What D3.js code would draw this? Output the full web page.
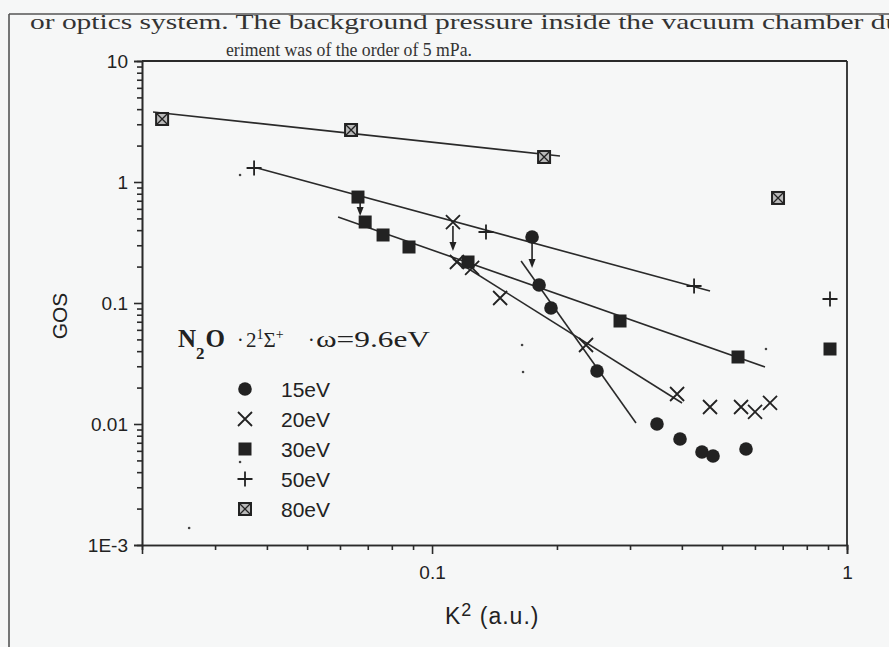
<!DOCTYPE html>
<html>
<head>
<meta charset="utf-8">
<script src="https://cdn.jsdelivr.net/npm/d3@7"></script>
<style>
  body { margin: 0; background: #f6f7f7; }
  svg { display: block; }
  .axis text { font-family: "Liberation Sans", Arial, sans-serif; font-size: 19px; fill: #222; }
  .axis path, .axis line { stroke: #2a2a2a; stroke-width: 1.6; }
</style>
</head>
<body>
<div id="graphicContainer"></div>
<script>

// K^2 (a.u.), GOS pairs
var ev15 = [[0.1742, 0.351], [0.1811, 0.1409], [0.1935, 0.0909], [0.2498, 0.02742], [0.3484, 0.0100],
	[0.3959, 0.00752], [0.4472, 0.00587], [0.4755, 0.00544], [0.5710, 0.00621]]
var ev20 = [[0.1123, 0.467], [0.1148, 0.2182], [0.1249, 0.1947], [0.1459, 0.1100], [0.2350, 0.04496],
	[0.3895, 0.0177], [0.4676, 0.01382], [0.5555, 0.01382], [0.6003, 0.01257], [0.6524, 0.01492]]
var ev30 = [[0.0663, 0.751], [0.0690, 0.467], [0.0762, 0.3648], [0.0880, 0.2903], [0.1221, 0.2182],
	[0.2838, 0.0710], [0.5462, 0.03579], [0.910, 0.04167]]
var ev50 = [[0.03725, 1.305], [0.1349, 0.3862], [0.428, 0.1382], [0.910, 0.1079]]
var ev80 = [[0.02236, 3.317], [0.0638, 2.69], [0.1862, 1.609], [0.682, 0.738]]

// fitted straight lines, two ends each
var fit15 = [[0.1639, 0.2224], [0.3101, 0.01019]]
var fit20 = [[0.1123, 0.2310], [0.4004, 0.01492]]
var fit30 = [[0.05937, 0.5137], [0.6344, 0.02959]]
var fit50 = [[0.03789, 1.305], [0.4677, 0.1257]]
var fit80 = [[0.02126, 3.79], [0.2034, 1.64]]

// shift arrows (from, to)
var shifts = [[[0.0671, 0.671], [0.0671, 0.5236]], [[0.1123, 0.4328], [0.1123, 0.269]], [[0.1742, 0.3133], [0.1742, 0.1947]]]

// stray dots on the scan
var specks = [[0.1648, 0.04496], [0.1657, 0.02691], [0.6379, 0.0417], [0.02598, 0.001382], [0.03446, 1.143], [0.03446, 0.004853]]

var xMajor = [0.1, 1]
var xMinor = [0.03, 0.04, 0.05, 0.06, 0.07, 0.08, 0.09, 0.2, 0.3, 0.4, 0.5, 0.6, 0.7, 0.8, 0.9]
var yMajor = [10, 1, 0.1, 0.01, 0.001]
var yLabels = ["10", "1", "0.1", "0.01", "1E-3"]

var legendLabels = ["15eV", "20eV", "30eV", "50eV", "80eV"]
var legendShapes = ["circle", "cross", "square", "plus", "xsquare"]

var width = 889, height = 647
var ink = "#222"

var svg = d3.select("#graphicContainer").append("svg")
	.attr("width", width)
	.attr("height", height)

svg.append("rect").attr("width", width).attr("height", height).attr("fill", "#f6f7f7")

svg.append("defs").append("clipPath").attr("id", "pageClip")
	.append("rect").attr("x", 0).attr("y", 15).attr("width", width).attr("height", height)

// page text above the figure
var page = svg.append("g").attr("clip-path", "url(#pageClip)")
page.append("text")
	.attr("x", 30).attr("y", 29)
	.attr("font-family", "Liberation Serif, serif").attr("font-size", 21).attr("fill", "#333")
	.attr("textLength", 880).attr("lengthAdjust", "spacingAndGlyphs")
	.text("or optics system. The background pressure inside the vacuum chamber dur")
page.append("text")
	.attr("x", 226).attr("y", 56)
	.attr("font-family", "Liberation Serif, serif").attr("font-size", 18).attr("fill", "#333")
	.attr("textLength", 246).attr("lengthAdjust", "spacingAndGlyphs")
	.text("eriment was of the order of 5 mPa.")

svg.append("line").attr("x1", 9).attr("x2", width).attr("y1", 14).attr("y2", 14)
	.attr("stroke", "#555").attr("stroke-width", 1.6)
svg.append("line").attr("x1", 9).attr("x2", 9).attr("y1", 14).attr("y2", height)
	.attr("stroke", "#555").attr("stroke-width", 1.6)

var x = d3.scaleLog().domain([0.02, 1]).range([142, 847])
var y = d3.scaleLog().domain([0.001, 10]).range([545, 61])

var yMinor = []
yMajor.slice(1).forEach(function (d) {
	for (var i = 2; i <= 9; i++) yMinor.push(+(d * i).toPrecision(3))
})

var axes = svg.append("g")

axes.append("g").attr("class", "axis").attr("transform", "translate(0," + y.range()[0] + ")")
	.call(d3.axisBottom(x).tickValues(xMinor).tickSize(5).tickFormat(""))
axes.append("g").attr("class", "axis").attr("transform", "translate(0," + y.range()[0] + ")")
	.call(d3.axisBottom(x).tickValues(xMajor).tickSize(9).tickPadding(12).tickFormat(d3.format("")))

axes.append("g").attr("class", "axis").attr("transform", "translate(" + x.range()[0] + ",0)")
	.call(d3.axisLeft(y).tickValues(yMinor).tickSize(5).tickFormat(""))
axes.append("g").attr("class", "axis").attr("transform", "translate(" + x.range()[0] + ",0)")
	.call(d3.axisLeft(y).tickValues(yMajor).tickSize(8).tickPadding(6).tickFormat(function (d, i) { return yLabels[i] }))

axes.selectAll(".domain").attr("stroke-width", 1.8)

// frame top and right
svg.append("line").attr("x1", x.range()[0]).attr("x2", x.range()[1]).attr("y1", y.range()[1]).attr("y2", y.range()[1])
	.attr("stroke", "#2a2a2a").attr("stroke-width", 1.8)
svg.append("line").attr("x1", x.range()[1]).attr("x2", x.range()[1]).attr("y1", y.range()[1]).attr("y2", y.range()[0])
	.attr("stroke", "#2a2a2a").attr("stroke-width", 1.8)

svg.append("text")
	.attr("transform", "translate(67,316) rotate(-90)")
	.attr("text-anchor", "middle")
	.attr("font-family", "Liberation Sans, Arial, sans-serif").attr("font-size", 21).attr("fill", ink)
	.text("GOS")

var xl = svg.append("text")
	.attr("x", 445).attr("y", 624)
	.attr("font-family", "Liberation Sans, Arial, sans-serif").attr("font-size", 23).attr("fill", ink)
	.attr("letter-spacing", 1)
xl.append("tspan").text("K")
xl.append("tspan").attr("font-size", 18).attr("dy", -8).text("2")
xl.append("tspan").attr("dy", 8).text(" (a.u.)")

// fit lines
var features = svg.append("g")
var line = d3.line().x(d => x(d[0])).y(d => y(d[1]))

features.selectAll("path.fit")
	.data([fit15, fit20, fit30, fit50, fit80])
	.enter()
	.append("path")
	.attr("class", "fit")
	.attr("d", line)
	.attr("fill", "none")
	.attr("stroke", "#2a2a2a")
	.attr("stroke-width", 1.6)

function drawMark(g, shape, cx, cy) {
	if (shape == "circle") {
		g.append("circle").attr("cx", cx).attr("cy", cy).attr("r", 6.8).attr("fill", ink)
	}
	else if (shape == "square") {
		g.append("rect").attr("x", cx - 6.5).attr("y", cy - 6.5).attr("width", 13).attr("height", 13).attr("fill", ink)
	}
	else if (shape == "cross") {
		g.append("path").attr("d", `M${cx - 7},${cy - 7}L${cx + 7},${cy + 7}M${cx - 7},${cy + 7}L${cx + 7},${cy - 7}`)
			.attr("stroke", ink).attr("stroke-width", 1.8).attr("fill", "none")
	}
	else if (shape == "plus") {
		g.append("path").attr("d", `M${cx - 7.5},${cy}L${cx + 7.5},${cy}M${cx},${cy - 7.5}L${cx},${cy + 7.5}`)
			.attr("stroke", ink).attr("stroke-width", 1.8).attr("fill", "none")
	}
	else if (shape == "xsquare") {
		g.append("rect").attr("x", cx - 6).attr("y", cy - 6).attr("width", 12).attr("height", 12)
			.attr("fill", "#b9b9b9").attr("stroke", ink).attr("stroke-width", 2)
		g.append("path").attr("d", `M${cx - 5},${cy - 5}L${cx + 5},${cy + 5}M${cx - 5},${cy + 5}L${cx + 5},${cy - 5}`)
			.attr("stroke", ink).attr("stroke-width", 1.3).attr("fill", "none")
	}
}

var series = [ev15, ev20, ev30, ev50, ev80]
series.forEach(function (s, i) {
	s.forEach(function (d) { drawMark(features, legendShapes[i], x(d[0]), y(d[1])) })
})

// arrows
shifts.forEach(function (a) {
	var x0 = x(a[0][0]), y0 = y(a[0][1]), y1 = y(a[1][1])
	features.append("line").attr("x1", x0).attr("x2", x0).attr("y1", y0).attr("y2", y1 - 7)
		.attr("stroke", ink).attr("stroke-width", 1.6)
	features.append("path").attr("d", `M${x0 - 3.5},${y1 - 9}L${x0 + 3.5},${y1 - 9}L${x0},${y1}Z`).attr("fill", ink)
})

features.selectAll("circle.speck")
	.data(specks)
	.enter()
	.append("circle")
	.attr("class", "speck")
	.attr("cx", d => x(d[0]))
	.attr("cy", d => y(d[1]))
	.attr("r", 1.3)
	.attr("fill", "#444")

// legend
var legend = svg.append("g")
var t = legend.append("text").attr("y", 347).attr("font-family", "Liberation Serif, Times New Roman, serif").attr("fill", ink)
t.append("tspan").attr("x", 178).attr("font-size", 25).attr("font-weight", "bold").text("N")
t.append("tspan").attr("font-size", 17).attr("font-weight", "bold").attr("dy", 12).text("2")
t.append("tspan").attr("font-size", 25).attr("font-weight", "bold").attr("dy", -12).attr("dx", 1).text("O")
t.append("tspan").attr("x", 237).attr("font-size", 20).text("·")
t.append("tspan").attr("x", 246).attr("font-size", 21).text("2")
t.append("tspan").attr("font-size", 14).attr("dy", -8).text("1")
t.append("tspan").attr("font-size", 21).attr("dy", 8).text("Σ")
t.append("tspan").attr("font-size", 14).attr("dy", -8).text("+")
t.append("tspan").attr("x", 308).attr("dy", 8).attr("font-size", 20).text("·")
t.append("tspan").attr("x", 316).attr("font-size", 23).attr("textLength", 114).attr("lengthAdjust", "spacingAndGlyphs").text("ω=9.6eV")

legendLabels.forEach(function (lab, i) {
	var cy = 389 + i * 30
	drawMark(legend, legendShapes[i], 245, cy)
	legend.append("text").attr("x", 281).attr("y", cy + 8)
		.attr("font-family", "Liberation Sans, Arial, sans-serif").attr("font-size", 21).attr("fill", ink)
		.text(lab)
})

</script>
</body>
</html>
